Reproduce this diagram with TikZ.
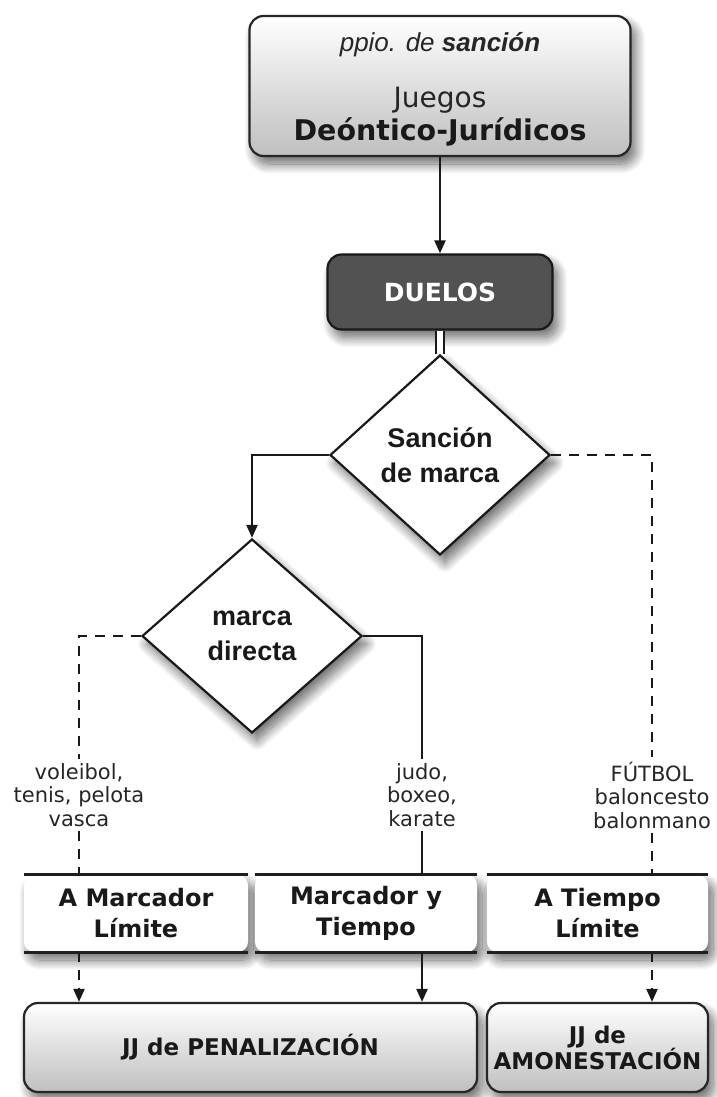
\documentclass[tikz,border=0pt]{standalone}
\usepackage{fontspec}
\setmainfont{DejaVu Sans}
\newfontfamily\helv{Liberation Sans}
\usetikzlibrary{shapes.geometric,arrows.meta,shadows.blur}

\begin{document}
\begin{tikzpicture}[x=1pt,y=-1pt,
  soft/.style={blur shadow={shadow xshift=5pt,shadow yshift=-8pt,
      shadow blur radius=10pt,shadow blur steps=16,shadow opacity=60}},
  roundbox/.style={draw=black!85,line width=2.2pt,rounded corners=14pt,
      top color=white,bottom color=black!25,soft,inner sep=0pt},
  darkbox/.style={draw=black!90,line width=2.2pt,rounded corners=14pt,
      fill=black!68,soft,inner sep=0pt,text=white,
      font=\bfseries\fontsize{25}{25}\selectfont},
  decision/.style={diamond,draw=black!90,line width=2.2pt,fill=white,soft,
      inner sep=0pt,align=center,text=black!90,
      font=\helv\bfseries\fontsize{27}{35}\selectfont},
  typebox/.style={fill=white,rounded corners=10pt,soft,inner sep=0pt,
      minimum height=77pt,align=center,text=black!90,
      font=\bfseries\fontsize{24}{31}\selectfont},
  jjbox/.style={roundbox,align=center,text=black!90,
      font=\bfseries\fontsize{23}{26}\selectfont},
  sportlabel/.style={inner sep=4pt,align=center,text=black!85,
      font=\fontsize{21}{23.5}\selectfont},
  rule/.style={line width=3.2pt,black!88},
  link/.style={line width=2.2pt,black!90},
  dashlink/.style={link,dash pattern=on 10pt off 8pt},
  flow/.style={link,-{Triangle[length=13pt,width=11pt]}}
]
\useasboundingbox (0,0) rectangle (717,1097);

% header box with its three lines of text
\node[roundbox,minimum width=381pt,minimum height=140pt] (topbox) at (440,86) {};
\node[anchor=base,text=black!85,font=\helv\itshape\fontsize{26}{26}\selectfont]
  (ppio) at (440,52) {ppio. de \bfseries sanción};
\node[anchor=base,text=black!85,font=\fontsize{28}{28}\selectfont]
  (juegos) at (440,108) {Juegos};
\node[anchor=base,text=black!90,font=\bfseries\fontsize{28.5}{28.5}\selectfont]
  (deontico) at (440,140) {Deóntico-Jurídicos};

% duels and the two decisions
\node[darkbox,minimum width=225pt,minimum height=75pt] (duelos) at (440,292) {DUELOS};
\node[decision,minimum width=220pt,minimum height=200pt] (d1) at (440,455) {Sanción\\de marca};
\node[decision,minimum width=220pt,minimum height=194pt] (d2) at (252,636) {marca\\directa};

% example sports on each branch
\node[sportlabel] (lblL) at (79,795) {voleibol,\\tenis, pelota\\vasca};
\node[sportlabel] (lblM) at (422,795) {judo,\\boxeo,\\karate};
\node[sportlabel] (lblR) at (652,795) {FÚTBOL\\baloncesto\\balonmano};

% game types
\node[typebox,minimum width=224pt] (tA) at (136,913.5) {A Marcador\\Límite};
\node[typebox,minimum width=222pt] (tB) at (366,913.5) {Marcador y\\Tiempo};
\node[typebox,minimum width=221pt] (tC) at (597.5,913.5) {A Tiempo\\Límite};
\foreach \b in {tA,tB,tC}{
  \draw[rule] (\b.north west) -- (\b.north east);
  \draw[rule] (\b.south west) -- (\b.south east);
}

% resulting families
\node[jjbox,minimum width=453pt,minimum height=89pt] (jjA) at (250.5,1047.5) {JJ de PENALIZACIÓN};
\node[jjbox,minimum width=221pt,minimum height=89pt] (jjB) at (597.5,1047.5) {JJ de\\AMONESTACIÓN};

% connectors
\draw[flow] (topbox) -- (duelos);
\draw[black!90,line width=2pt,double=white,double distance=6pt] (duelos.south) -- (d1.north);
\draw[flow] (d1.west) -| (d2.north);

\draw[dashlink] (d2.west) -| (lblL.north);
\draw[dashlink] (lblL.south) -- (lblL.south |- tA.north);
\draw[link] (d2.east) -| (lblM.north);
\draw[link] (lblM.south) -- (lblM.south |- tB.north);
\draw[dashlink] (d1.east) -| (lblR.north);
\draw[dashlink] (lblR.south) -- (lblR.south |- tC.north);

\draw[flow,dash pattern=on 10pt off 8pt] (lblL.south |- tA.south) -- (lblL.south |- jjA.north);
\draw[flow] (lblM.south |- tB.south) -- (lblM.south |- jjA.north);
\draw[flow,dash pattern=on 10pt off 8pt] (lblR.south |- tC.south) -- (lblR.south |- jjB.north);
\end{tikzpicture}
\end{document}
